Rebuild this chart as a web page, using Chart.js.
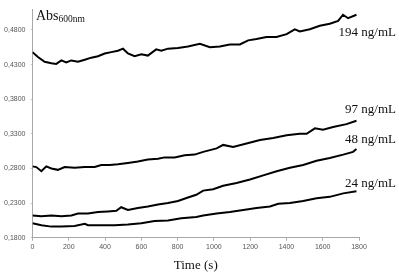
<!DOCTYPE html>
<html>
<head>
<meta charset="utf-8">
<script src="https://cdn.jsdelivr.net/npm/chart.js@4"></script>
<style>
html,body{margin:0;padding:0;background:#fff;}
#wrap{width:399px;height:273px;position:relative;}
</style>
</head>
<body>
<div id="wrap"><canvas id="c" width="399" height="273"></canvas></div>
<script>
// ---- data ----
const seriesNames = ["194 ng/mL", "97 ng/mL", "48 ng/mL", "24 ng/mL"];

const t194 = [0,30,67,104,131,159,186,214,251,288,324,361,398,434,471,499,526,563,600,636,682,710,747,802,857,923,978,1033,1088,1143,1189,1235,1290,1345,1401,1446,1474,1529,1584,1639,1685,1712,1740,1786];
const v194 = [0.448,0.441,0.434,0.432,0.431,0.436,0.433,0.436,0.434,0.437,0.440,0.442,0.446,0.448,0.450,0.453,0.446,0.442,0.445,0.443,0.452,0.450,0.453,0.454,0.456,0.460,0.455,0.456,0.459,0.459,0.465,0.467,0.470,0.470,0.474,0.481,0.478,0.481,0.486,0.489,0.493,0.502,0.497,0.502];

const t97 = [0,21,49,76,104,140,177,232,288,343,379,425,471,526,581,636,692,728,784,839,894,941,1015,1051,1106,1180,1254,1327,1401,1474,1511,1557,1602,1657,1731,1786];
const v97 = [0.283,0.282,0.276,0.283,0.280,0.278,0.282,0.281,0.282,0.282,0.285,0.285,0.286,0.288,0.290,0.293,0.294,0.296,0.296,0.299,0.300,0.304,0.309,0.314,0.311,0.316,0.321,0.324,0.328,0.330,0.330,0.338,0.336,0.340,0.344,0.349];

const t48 = [0,49,104,159,214,251,306,361,416,462,489,526,581,636,692,747,802,857,903,941,996,1051,1125,1199,1272,1346,1419,1492,1566,1639,1713,1767,1786];
const v48 = [0.212,0.211,0.212,0.211,0.212,0.215,0.215,0.217,0.218,0.219,0.224,0.220,0.223,0.225,0.228,0.230,0.233,0.238,0.242,0.248,0.250,0.255,0.259,0.264,0.270,0.276,0.281,0.285,0.291,0.295,0.300,0.304,0.308];

const t24 = [0,49,104,159,232,288,306,379,453,526,600,673,747,820,903,941,1015,1088,1162,1235,1309,1355,1419,1492,1566,1639,1713,1786];
const v24 = [0.201,0.198,0.196,0.196,0.197,0.200,0.198,0.198,0.198,0.199,0.201,0.204,0.205,0.208,0.210,0.212,0.215,0.217,0.220,0.223,0.225,0.229,0.230,0.233,0.237,0.239,0.244,0.247];

const yTicks = [0.18, 0.23, 0.28, 0.33, 0.38, 0.43, 0.48];
const xTicks = [0,200,400,600,800,1000,1200,1400,1600,1800];
const xTitle = "Time (s)";
const yTitleMain = "Abs";
const yTitleSub = "600nm";

// label anchor values (y-value where each series label sits)
const labelAnchors = [0.4756, 0.365, 0.321, 0.2575];

function pts(t, v){ return t.map((x,i)=>({x:x, y:v[i]})); }
const allT = [t194, t97, t48, t24];
const allV = [v194, v97, v48, v24];

const textPlugin = {
  id: 'textPlugin',
  afterDraw(chart){
    const ctx = chart.ctx;
    const xs = chart.scales.x, ys = chart.scales.y;
    ctx.save();
    ctx.fillStyle = '#111';
    ctx.textBaseline = 'alphabetic';
    ctx.textAlign = 'left';
    ctx.font = '14px "Liberation Serif"';
    const ax = xs.left + 3.5;
    ctx.fillText(yTitleMain, ax, 19.5);
    const w = ctx.measureText(yTitleMain).width;
    ctx.font = '9.5px "Liberation Serif"';
    ctx.fillText(yTitleSub, ax + w, 21.5);
    ctx.font = '13px "Liberation Serif"';
    ctx.textAlign = 'right';
    ctx.textBaseline = 'middle';
    const rx = xs.getPixelForValue(1800) + 37;
    seriesNames.forEach((n,i)=>{
      ctx.fillText(n, rx, ys.getPixelForValue(labelAnchors[i]));
    });
    ctx.restore();
  }
};

new Chart(document.getElementById('c'), {
  type: 'line',
  data: {
    datasets: seriesNames.map((n,i)=>({
      label: n,
      data: pts(allT[i], allV[i]),
      borderColor: '#000',
      borderWidth: 2,
      pointRadius: 0,
      tension: 0,
      fill: false
    }))
  },
  options: {
    responsive: false,
    animation: false,
    devicePixelRatio: 1,
    layout: { padding: { left: 0, right: 40, top: 4, bottom: 0 } },
    plugins: { legend: { display: false }, tooltip: { enabled: false } },
    scales: {
      x: {
        type: 'linear',
        min: 0, max: 1800,
        afterBuildTicks(s){ s.ticks = xTicks.map(v=>({value:v})); },
        afterFit(s){ s.height = 35.3; },
        grid: { drawOnChartArea: false, drawTicks: true, tickLength: 3, color: '#aaa' },
        border: { color: '#a8a8a8', width: 1 },
        ticks: { color: '#555', font: { family: 'Liberation Sans', size: 7 }, padding: 2, maxRotation: 0,
          callback: v => String(v) },
        title: { display: true, text: xTitle, color: '#111', font: { family: 'Liberation Serif', size: 13 }, padding: { top: 2, bottom: 0 } }
      },
      y: {
        type: 'linear',
        min: 0.18, max: 0.51,
        afterBuildTicks(s){ s.ticks = yTicks.map(v=>({value:v})); },
        afterFit(s){ s.width = 32.5; },
        grid: { drawOnChartArea: false, drawTicks: true, tickLength: 2, color: '#ccc' },
        border: { color: '#a8a8a8', width: 1 },
        ticks: { color: '#555', font: { family: 'Liberation Sans', size: 7 }, padding: 5,
          callback: v => v.toFixed(4).replace('.', ',') }
      }
    }
  },
  plugins: [textPlugin]
});
</script>
</body>
</html>
